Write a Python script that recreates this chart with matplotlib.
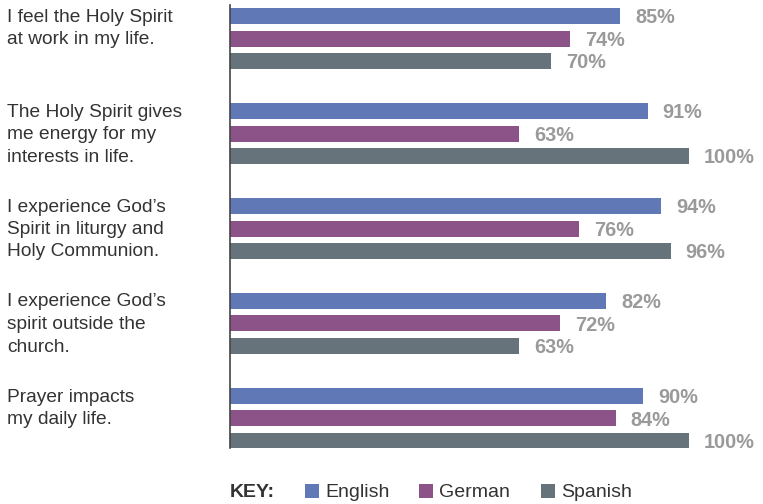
import matplotlib
matplotlib.use("Agg")
import matplotlib.pyplot as plt
from matplotlib.patches import Rectangle

categories = [
    "I feel the Holy Spirit\nat work in my life.",
    "The Holy Spirit gives\nme energy for my\ninterests in life.",
    "I experience God\u2019s\nSpirit in liturgy and\nHoly Communion.",
    "I experience God\u2019s\nspirit outside the\nchurch.",
    "Prayer impacts\nmy daily life.",
]
series_names = ["English", "German", "Spanish"]
english = [85, 91, 94, 82, 90]
german = [74, 63, 76, 72, 84]
spanish = [70, 100, 96, 63, 100]
colors = ["#6079b6", "#8b5388", "#67737a"]

plt.rcParams['font.family'] = ['Liberation Sans', 'DejaVu Sans']

W, H = 763, 504
fig = plt.figure(figsize=(W / 100, H / 100), dpi=100)

ax_left, ax_right = 230, 763
ax_top, ax_bot = 5, 448
ax = fig.add_axes([ax_left / W, 1 - ax_bot / H, (ax_right - ax_left) / W, (ax_bot - ax_top) / H])
xmax = 100 * (ax_right - ax_left) / 459.0
ax.set_xlim(0, xmax)
ax.set_ylim(ax_bot - ax_top, 0)  # pixel-like units, inverted

group_step = 95
bar_step = 22.5
bar_h = 16
first_px = 16

all_series = [english, german, spanish]
for j, (vals, c) in enumerate(zip(all_series, colors)):
    ys = [first_px - ax_top + group_step * i + bar_step * j for i in range(len(vals))]
    ax.barh(ys, vals, height=bar_h, color=c, linewidth=0)
    for y, v in zip(ys, vals):
        ax.text(v + 15 * xmax / (ax_right - ax_left), y + 7.3, f"{v}%", va="baseline", ha="left",
                fontsize=14.3, fontweight="bold", color="#9a9a9a")

for i, cat in enumerate(categories):
    for k, line in enumerate(cat.split("\n")):
        base = first_px + group_step * i + bar_step * k + 5.5
        fig.text(7 / W, 1 - base / H, line, ha="left", va="baseline",
                 fontsize=13.8, color="#333333")

for s in ["top", "right", "bottom"]:
    ax.spines[s].set_visible(False)
ax.spines["left"].set_color("#444444")
ax.spines["left"].set_linewidth(1.2)
ax.set_xticks([])
ax.set_yticks([])

# legend
ly = 491
fig.text(230 / W, 1 - (ly + 6) / H, "KEY:", ha="left", va="baseline", fontsize=14,
         fontweight="bold", color="#333333")
lx = [305, 419, 541]
for x, name, c in zip(lx, series_names, colors):
    fig.patches.append(Rectangle((x / W, 1 - (ly + 7) / H), 14 / W, 14 / H,
                                 transform=fig.transFigure, color=c, linewidth=0))
    fig.text((x + 20) / W, 1 - (ly + 6) / H, name, ha="left", va="baseline",
             fontsize=14, color="#333333")

fig.savefig("out.png", dpi=100)
